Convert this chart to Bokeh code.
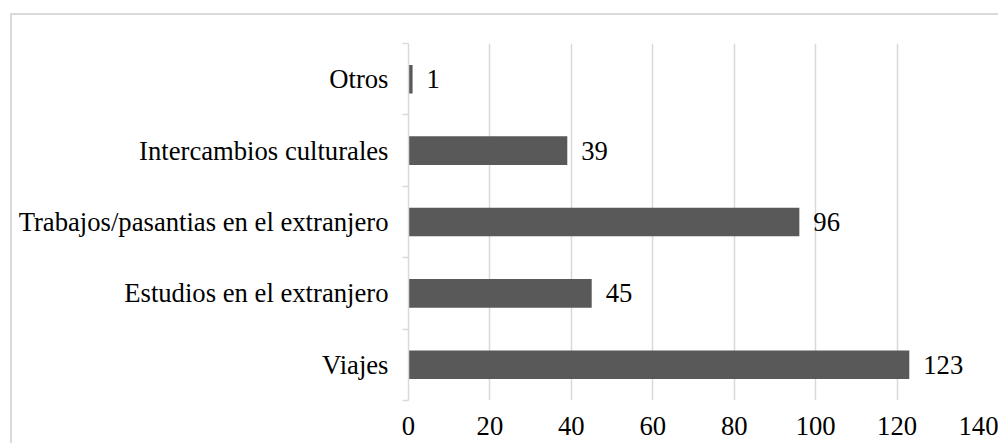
from bokeh.plotting import figure
from bokeh.models import Range1d, FixedTicker, ColumnDataSource
from bokeh.core.properties import value
from bokeh.embed import file_html
from bokeh.resources import INLINE

categories = ["Viajes", "Estudios en el extranjero", "Trabajos/pasantias en el extranjero",
              "Intercambios culturales", "Otros"]
counts = [123, 45, 96, 39, 1]
x_ticks = [0, 20, 40, 60, 80, 100, 120, 140]

positions = list(range(len(categories)))
src = ColumnDataSource(dict(y=positions, v=counts, lab=[str(c) for c in counts]))

FONT = "Liberation Serif"
FS = "20pt"
GRID = "#d9d9d9"

p = figure(width=988, height=430, output_backend="svg", toolbar_location=None,
           x_range=Range1d(0, 140), y_range=Range1d(-0.5, len(categories) - 0.5),
           min_border_left=396, min_border_right=22, min_border_top=28, min_border_bottom=45)
p.outline_line_color = None
p.background_fill_color = "white"
p.border_fill_color = "white"
p.styles = {"border-left": "2px solid #d9d9d9", "border-top": "2px solid #d9d9d9",
            "margin-left": "10px", "margin-top": "13px"}

p.hbar(y="y", right="v", left=0, height=0.4, source=src, fill_color="#595959",
       line_color=None)
p.text(x="v", y="y", text="lab", source=src, x_offset=14, text_baseline="middle",
       text_align="left", text_font=value(FONT), text_font_size=FS, text_color="black")

# x axis
p.xaxis.ticker = FixedTicker(ticks=x_ticks)
p.xaxis.axis_line_color = None
p.xaxis.major_tick_line_color = None
p.xaxis.minor_tick_line_color = None
p.xaxis.major_label_standoff = 10
p.xaxis.major_label_text_font = FONT
p.xaxis.major_label_text_font_size = FS
p.xaxis.major_label_text_color = "black"

# y axis: labels at category centres, ticks at boundaries
p.yaxis.ticker = FixedTicker(ticks=positions,
                             minor_ticks=[i - 0.5 for i in range(len(categories) + 1)])
p.yaxis.major_label_overrides = {i: c for i, c in enumerate(categories)}
p.yaxis.axis_line_color = GRID
p.yaxis.axis_line_width = 1.5
p.yaxis.major_tick_line_color = None
p.yaxis.major_tick_in = 0
p.yaxis.major_tick_out = 0
p.yaxis.minor_tick_line_color = GRID
p.yaxis.minor_tick_line_width = 1.5
p.yaxis.minor_tick_in = 0
p.yaxis.minor_tick_out = 6
p.yaxis.major_label_standoff = 14
p.yaxis.major_label_text_font = FONT
p.yaxis.major_label_text_font_size = FS
p.yaxis.major_label_text_color = "black"

p.xgrid.ticker = FixedTicker(ticks=x_ticks)
p.xgrid.grid_line_color = GRID
p.xgrid.grid_line_width = 1.5
p.ygrid.grid_line_color = None

open("out.html", "w").write(file_html(p, INLINE))
